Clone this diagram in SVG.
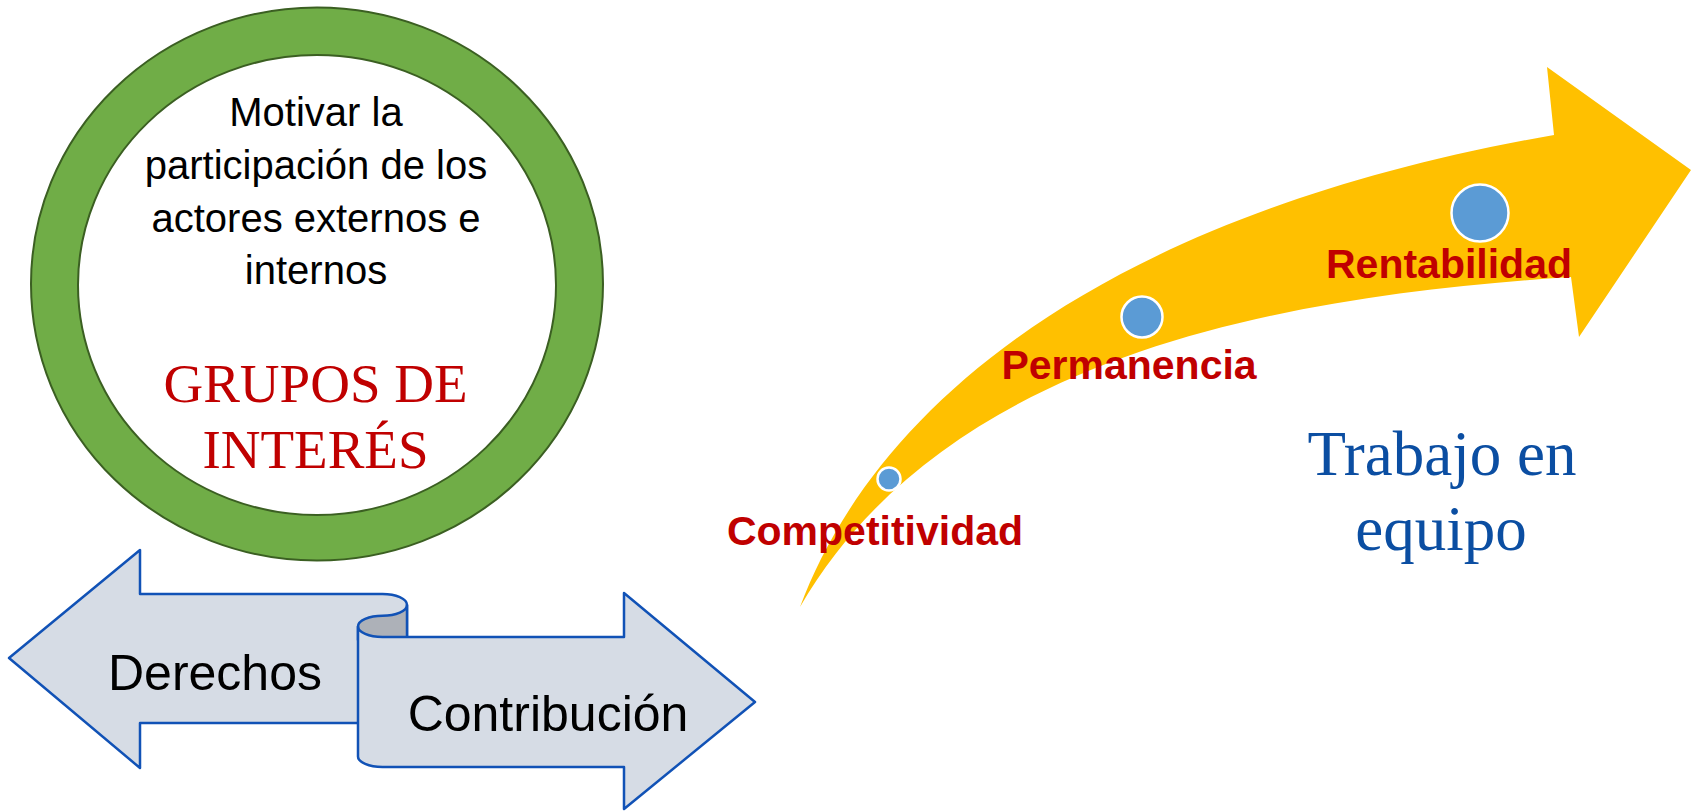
<svg xmlns="http://www.w3.org/2000/svg" width="1692" height="811" viewBox="0 0 1692 811">
<style>
.body{font-family:"Liberation Sans",Arial,sans-serif;fill:#000;text-anchor:middle}
.red{font-family:"Liberation Serif","Times New Roman",serif;fill:#C00000;text-anchor:middle}
.lbl{font-family:"Liberation Sans",Arial,sans-serif;font-weight:bold;fill:#C00000;text-anchor:middle;font-size:41px}
.blue{font-family:"Liberation Serif","Times New Roman",serif;fill:#0B4EA2;text-anchor:middle;font-size:63px}
.rib{fill:#D6DCE5;stroke:#1152B6;stroke-width:2.5;stroke-linejoin:round}
.dot{fill:#5B9BD5;stroke:#FFFFFF;stroke-width:2.5}
</style>
<rect width="1692" height="811" fill="#FFFFFF"/>

<g id="grupos-interes">
  <ellipse cx="317" cy="284" rx="286" ry="276.5" fill="#70AD47" stroke="#3B5F22" stroke-width="2"/>
  <ellipse cx="317" cy="285" rx="239" ry="230" fill="#FFFFFF" stroke="#3B5F22" stroke-width="2"/>
  <text class="body" font-size="40"><tspan x="316" y="126">Motivar la</tspan><tspan x="316" y="178.5">participación de los</tspan><tspan x="316" y="231.5">actores externos e</tspan><tspan x="316" y="284">internos</tspan></text>
  <text class="red" font-size="55"><tspan x="315.5" y="402">GRUPOS DE</tspan><tspan x="315.5" y="468">INTERÉS</tspan></text>
</g>

<g id="derechos-contribucion">
  <path class="rib" d="M 9,658 L 140,550 L 140,594 L 382.5,594 A 24.5,11 0 0 1 407,605 L 407,723 L 140,723 L 140,768 Z"/>
  <path d="M 407,605 A 24.5,10.75 0 0 1 382.5,615.75 A 24.5,10.75 0 0 0 358,626.5 L 358,640 L 407,640 Z" fill="#ADB1B8" stroke="#1152B6" stroke-width="2.5" stroke-linejoin="round"/>
  <path class="rib" d="M 382.5,637 L 624,637 L 624,593 L 755,702 L 624,809 L 624,767 L 382.5,767 A 24.5,10.5 0 0 1 358,756.5 L 358,626.5 A 24.5,10.5 0 0 0 382.5,637 Z"/>
  <text class="body" font-size="50" x="215" y="690">Derechos</text>
  <text class="body" font-size="50" x="548" y="731">Contribución</text>
</g>

<g id="flecha">
  <path d="M 800,607 C 870,420 1080,218 1554,135 L 1547,67 L 1691,170 L 1579,337 L 1571,277 C 1300,295 950,348 800,607 Z" fill="#FFC000"/>
</g>

<g id="competitividad">
  <circle class="dot" cx="889" cy="479" r="11.5"/>
  <text class="lbl" x="875" y="545">Competitividad</text>
</g>
<g id="permanencia">
  <circle class="dot" cx="1142" cy="317" r="20.5"/>
  <text class="lbl" x="1129" y="379">Permanencia</text>
</g>
<g id="rentabilidad">
  <circle class="dot" cx="1480" cy="213" r="28.5"/>
  <text class="lbl" x="1449" y="278">Rentabilidad</text>
</g>

<g id="trabajo-equipo">
  <text class="blue"><tspan x="1442" y="475">Trabajo en</tspan><tspan x="1441" y="550">equipo</tspan></text>
</g>
<g id="connectors"/>
</svg>
